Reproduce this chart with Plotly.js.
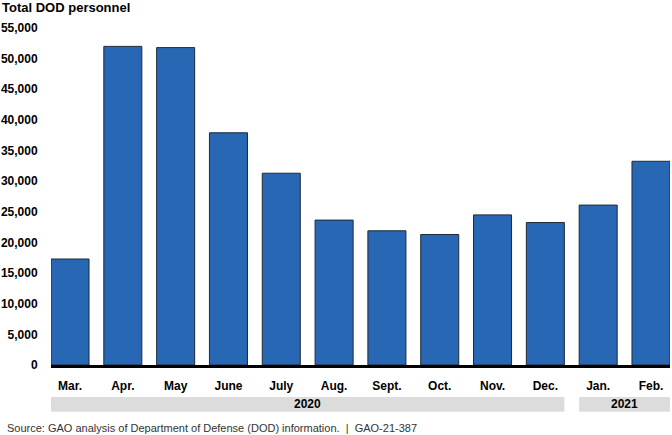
<!DOCTYPE html>
<html>
<head>
<meta charset="utf-8">
<script src="https://cdn.plot.ly/plotly-3.0.1.min.js"></script>
<style>html,body{margin:0;padding:0;background:#fff;}#chart{width:672px;height:435px;}</style>
</head>
<body>
<div id="chart"></div>
<script>
const months = ["Mar.", "Apr.", "May", "June", "July", "Aug.", "Sept.", "Oct.", "Nov.", "Dec.", "Jan.", "Feb."];
const personnel = [17300, 52000, 51800, 37900, 31300, 23650, 21900, 21300, 24500, 23250, 26100, 33250];
const years = ["2020", "2021"];
const yearStartIdx = [0, 10];
const yearEndIdx = [9, 11];
const yTickVals = [0, 5000, 10000, 15000, 20000, 25000, 30000, 35000, 40000, 45000, 50000, 55000];

const xIdx = months.map((m, i) => i);
const font = "Liberation Sans, Arial, sans-serif";
const pad = 0.36;

const shapes = years.map((y, k) => ({
  type: "rect", xref: "x", yref: "paper",
  x0: yearStartIdx[k] - pad, x1: yearEndIdx[k] + pad,
  y0: -0.139, y1: -0.095,
  fillcolor: "#dcdcdc", line: {width: 0}, layer: "below"
}));

const annotations = years.map((y, k) => ({
  text: "<b>" + y + "</b>", xref: "x", yref: "paper",
  x: (yearStartIdx[k] + yearEndIdx[k]) / 2, y: -0.117,
  showarrow: false, font: {family: font, size: 12, color: "#000"},
  xanchor: "center", yanchor: "middle"
}));
annotations.push({
  text: "Source: GAO analysis of Department of Defense (DOD) information.  |  GAO-21-387",
  xref: "paper", yref: "paper", x: -0.075, y: -0.188, xanchor: "left", yanchor: "middle",
  showarrow: false, font: {family: font, size: 11, color: "#333"}
});

const trace = {
  type: "bar", x: xIdx, y: personnel,
  marker: {color: "#2767b4", line: {color: "#1e2a38", width: 1}},
  hoverinfo: "none"
};

const layout = {
  width: 672, height: 435,
  margin: {l: 51, r: 2, t: 28, b: 70},
  paper_bgcolor: "#fff", plot_bgcolor: "#fff",
  bargap: 0.28,
  showlegend: false,
  title: {
    text: "<b>Total DOD personnel</b>", xref: "container", yref: "container",
    x: 0.003, xanchor: "left", y: 0.982, yanchor: "middle",
    font: {family: font, size: 13, color: "#000"}
  },
  xaxis: {
    range: [-pad, months.length - 1 + pad],
    tickmode: "array", tickvals: xIdx, ticktext: months.map(m => "<b>" + m + "</b>"),
    tickfont: {family: font, size: 12, color: "#000"},
    ticks: "outside", ticklen: 8, tickcolor: "rgba(0,0,0,0)",
    showline: true, linecolor: "#000", linewidth: 3,
    showgrid: false, zeroline: false, fixedrange: true
  },
  yaxis: {
    range: [0, 55000],
    tickmode: "array", tickvals: yTickVals,
    ticktext: yTickVals.map(v => "<b>" + v.toLocaleString("en-US") + "</b>"),
    tickfont: {family: font, size: 12, color: "#000"},
    ticks: "outside", ticklen: 10, tickcolor: "rgba(0,0,0,0)",
    showline: false, showgrid: false, zeroline: false, fixedrange: true
  },
  shapes: shapes,
  annotations: annotations
};

Plotly.newPlot("chart", [trace], layout, {displayModeBar: false, staticPlot: true});
</script>
</body>
</html>
